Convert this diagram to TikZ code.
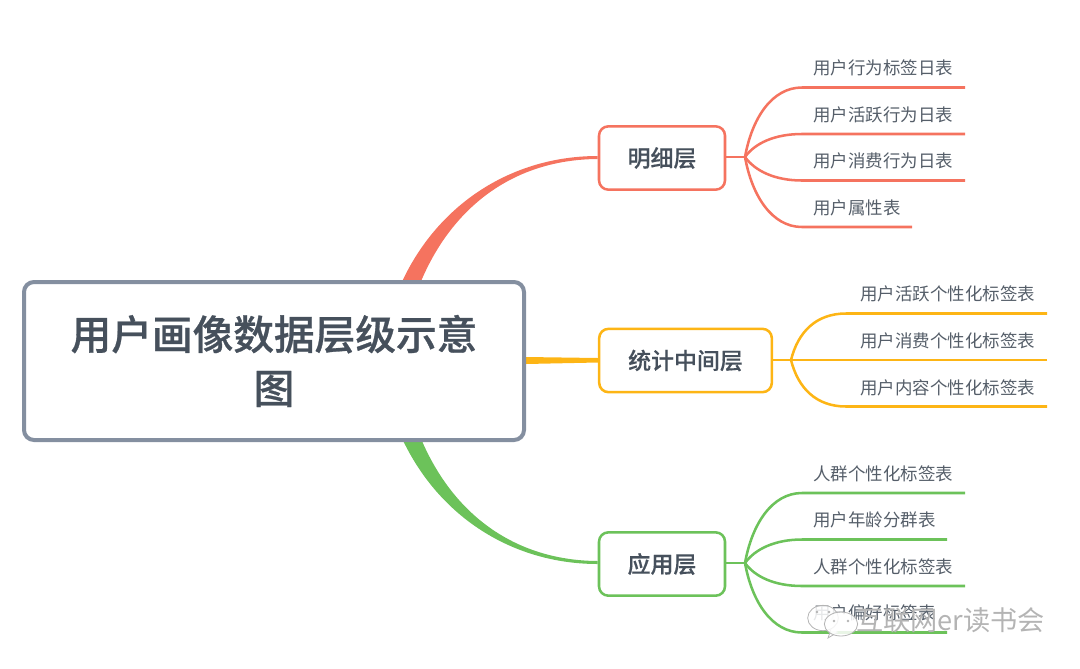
\documentclass[tikz,border=0pt]{standalone}
\usepackage{fontspec}
\setmainfont{Noto Sans CJK SC}[BoldFont={Noto Sans CJK SC Medium}]
\newfontfamily\titlefont{Noto Sans CJK SC Medium}[FakeBold=0.7]
\newfontfamily\midfont{Noto Sans CJK SC Medium}[FakeBold=0.3]
\usetikzlibrary{calc,backgrounds}
\definecolor{ink}{HTML}{46505C}
\definecolor{leafink}{HTML}{555E69}
\definecolor{rootc}{HTML}{848FA0}
\definecolor{redc}{HTML}{F5735F}
\definecolor{yelc}{HTML}{FDB515}
\definecolor{grnc}{HTML}{6CC25A}
\definecolor{wm}{HTML}{B4B4B4}
\tikzset{
  rootbox/.style={draw=rootc,line width=3pt,fill=white,rounded corners=7.5pt,text=ink,align=center,minimum width=375pt,minimum height=118.5pt,inner sep=0pt,font=\fontsize{30.5}{40.5}\selectfont\titlefont},
  midbox/.style={draw=#1,line width=1.9pt,fill=white,rounded corners=7pt,text=ink,inner sep=0pt,minimum height=47.5pt,font=\fontsize{17.2}{20}\selectfont\midfont},
  leaflabel/.style={anchor=west,inner sep=0pt,text=leafink,font=\fontsize{13.1}{16}\selectfont},
  branch/.style={draw=#1,line width=1.9pt},
  taper/.style={fill=#1,draw=none},
  wmtext/.style={inner sep=0pt,anchor=west,text=wm,font=\fontsize{20.4}{24}\selectfont},
  wmbubble/.style={draw=wm,fill=white,line width=0.6pt,fill opacity=0.85},
}
\begin{document}
\begin{tikzpicture}[x=0.75pt,y=-0.75pt]
\useasboundingbox (0,0) rectangle (1080,668);
% root and level-one boxes
\node[rootbox] (root) at (274,361) {\raisebox{1pt}{用户画像数据层级示意}\\\raisebox{1pt}{图}};
\node[midbox=redc,minimum width=94.5pt] (mid1) at (662,158) {明细层};
\node[midbox=yelc,minimum width=129.5pt] (mid2) at (685.5,360.5) {统计中间层};
\node[midbox=grnc,minimum width=94.5pt] (mid3) at (662,564) {应用层};
% tapered main branches (behind the root)
\coordinate (ra) at (400,286); \coordinate (rb) at (416,294);
\coordinate (ga) at (400,434); \coordinate (gb) at (416,426);
\begin{scope}[on background layer]
\path[taper=redc] (ra) .. controls (437,203) and (513,156) .. ($(mid1.west)+(0,-2)$)
  -- ($(mid1.west)+(0,1)$) .. controls (512,159.5) and (447,209) .. (rb) -- cycle;
\path[taper=yelc] ($(root.east)+(0,-4)$) -- ($(mid2.west)+(0,-2.5)$) -- ($(mid2.west)+(0,2)$) -- ($(root.east)+(0,3)$) -- cycle;
\path[taper=grnc] (ga) .. controls (437,517) and (513,564) .. ($(mid3.west)+(0,0)$)
  -- ($(mid3.west)+(0,-3)$) .. controls (512,560.5) and (447,511) .. (gb) -- cycle;
\end{scope}
% hubs
\coordinate (h1) at (745,157); \coordinate (h2) at (791,360); \coordinate (h3) at (745,563);
\draw[branch=redc] (mid1.east |- h1) -- (h1);
\draw[branch=yelc] (mid2.east |- h2) -- (h2);
\draw[branch=grnc] (mid3.east |- h3) -- (h3);
% red leaves
\node[leaflabel] (a1) at (813,68) {用户行为标签日表};
\node[leaflabel] (a2) at (813,114.5) {用户活跃行为日表};
\node[leaflabel] (a3) at (813,161) {用户消费行为日表};
\node[leaflabel] (a4) at (813,207.5) {用户属性表};
\coordinate (a1e) at (965,87.5); \coordinate (a2e) at (965,134); \coordinate (a3e) at (965,180.5); \coordinate (a4e) at (912,227);
\draw[branch=redc] (h1) .. controls (752,118) and (772,87.5) .. (802,87.5) -- (a1e);
\draw[branch=redc] (h1) .. controls (755,143) and (775,134) .. (802,134) -- (a2e);
\draw[branch=redc] (h1) .. controls (755,171) and (775,180.5) .. (802,180.5) -- (a3e);
\draw[branch=redc] (h1) .. controls (752,196) and (772,227) .. (802,227) -- (a4e);
% yellow leaves
\node[leaflabel] (b1) at (860,294) {用户活跃个性化标签表};
\node[leaflabel] (b2) at (860,341) {用户消费个性化标签表};
\node[leaflabel] (b3) at (860,387.5) {用户内容个性化标签表};
\coordinate (b1e) at (1047,313.5); \coordinate (b2e) at (1047,360); \coordinate (b3e) at (1047,406.5);
\draw[branch=yelc] (h2) .. controls (798,332) and (816,313.5) .. (846,313.5) -- (b1e);
\draw[branch=yelc] (h2) -- (b2e);
\draw[branch=yelc] (h2) .. controls (798,388) and (816,406.5) .. (846,406.5) -- (b3e);
% green leaves
\node[leaflabel] (c1) at (813,473.5) {人群个性化标签表};
\node[leaflabel] (c2) at (813,520) {用户年龄分群表};
\node[leaflabel] (c3) at (813,566.5) {人群个性化标签表};
\node[leaflabel] (c4) at (813,613) {用户偏好标签表};
\coordinate (c1e) at (965,493); \coordinate (c2e) at (947,539.5); \coordinate (c3e) at (965,586); \coordinate (c4e) at (947,632.5);
\draw[branch=grnc] (h3) .. controls (752,524) and (772,493) .. (802,493) -- (c1e);
\draw[branch=grnc] (h3) .. controls (755,549) and (775,539.5) .. (802,539.5) -- (c2e);
\draw[branch=grnc] (h3) .. controls (755,577) and (775,586) .. (802,586) -- (c3e);
\draw[branch=grnc] (h3) .. controls (752,602) and (772,632.5) .. (802,632.5) -- (c4e);
% watermark
\draw[wmbubble] (823,618) ellipse [x radius=11.5pt, y radius=9.5pt];
\draw[wmbubble] (831,629) -- (828,638) -- (838,632);
\fill[wm] (817,612) circle (1pt) (829,612) circle (1pt);
\draw[wmbubble] (841,624) ellipse [x radius=12.5pt, y radius=9pt];
\fill[wm] (834,621) circle (1pt) (848,621) circle (1pt);
\node[wmtext] (wm) at (856,620) {互联网er读书会};
\end{tikzpicture}
\end{document}
